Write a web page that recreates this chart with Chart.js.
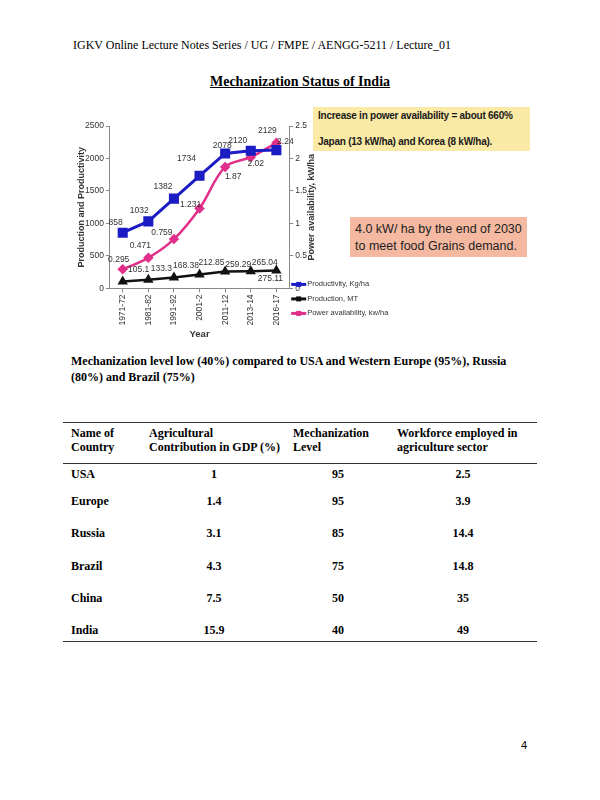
<!DOCTYPE html>
<html lang="en">
<head>
<meta charset="UTF-8">
<title>Mechanization Status of India</title>
<script src="https://cdn.jsdelivr.net/npm/chart.js@4.4.0/dist/chart.umd.min.js"></script>
<style>
    body {
        margin: 0;
        width: 600px;
        height: 800px;
        background: #ffffff;
        font-family: 'Liberation Serif', 'Times New Roman', serif;
        color: #000;
        position: relative;
        overflow: hidden;
    }
    .abs { position: absolute; white-space: nowrap; }
    .header { left: 73px; top: 38px; font-size: 12px; }
    .title { left: 0; width: 600px; text-align: center; top: 74px; font-size: 14px; font-weight: bold; text-decoration: underline; }
    .chart-wrap { position: absolute; left: 70px; top: 118px; width: 332px; height: 222px; }
    .note-yellow {
        left: 313px; top: 107px; width: 217px; height: 44px;
        background: #fbe9a6;
        font-family: 'Liberation Sans', Arial, sans-serif;
        font-weight: bold; font-size: 10px; letter-spacing: -0.25px; color: #1a1a1a;
        box-sizing: border-box; padding: 0 0 0 5px; line-height: 26px;
    }
    .note-yellow div { margin-top: -4px; }
    .note-pink {
        left: 350px; top: 217px; width: 177px; height: 40px;
        background: #f5b9a1;
        font-family: 'Liberation Sans', Arial, sans-serif;
        font-size: 12.5px; color: #222;
        box-sizing: border-box; padding: 4px 0 0 5px; line-height: 17px;
    }
    .para { left: 71px; top: 353px; font-size: 12px; font-weight: bold; line-height: 16px; }
    .rule { position: absolute; left: 63px; width: 474px; height: 0; border-top: 1px solid #333; }
    .cell { position: absolute; font-size: 12px; font-weight: bold; line-height: 14px; white-space: nowrap; }
    .num { text-align: center; width: 80px; }
    .page { left: 521px; top: 739px; font-family: 'Liberation Sans', Arial, sans-serif; font-size: 11px; }
</style>
</head>
<body>
<div class="abs header">IGKV Online Lecture Notes Series / UG / FMPE / AENGG-5211 / Lecture_01</div>
<div class="abs title">Mechanization Status of India</div>

<div class="chart-wrap"><canvas id="mechChart"></canvas></div>

<div class="abs note-yellow"><div>Increase in power availability = about 660%<br>Japan (13 kW/ha) and Korea (8 kW/ha).</div></div>
<div class="abs note-pink">4.0 kW/ ha by the end of 2030<br>to meet food Grains demand.</div>

<div class="abs para">Mechanization level low (40%) compared to USA and Western Europe (95%), Russia<br>(80%) and Brazil (75%)</div>

<div id="table"></div>

<div class="abs page">4</div>

<script>
    // chart data
    const years = ['1971-72', '1981-82', '1991-92', '2001-2', '2011-12', '2013-14', '2016-17'];
    const productivity = [858, 1032, 1382, 1734, 2078, 2120, 2129];
    const production = [105.1, 133.3, 168.38, 212.85, 259.29, 265.04, 275.11];
    const powerAvail = [0.295, 0.471, 0.759, 1.231, 1.87, 2.02, 2.24];
    const leftTicks = [0, 500, 1000, 1500, 2000, 2500];
    const rightTicks = [0, 0.5, 1, 1.5, 2, 2.5];

    // table data
    const countries = ['USA', 'Europe', 'Russia', 'Brazil', 'China', 'India'];
    const gdpShare = ['1', '1.4', '3.1', '4.3', '7.5', '15.9'];
    const mechLevel = ['95', '95', '85', '75', '50', '40'];
    const workforce = ['2.5', '3.9', '14.4', '14.8', '35', '49'];

    // label offsets (dx, dy) relative to each point
    const labelOffsets = [
        [[-7, -10], [-9, -11], [-11, -12], [-13, -17], [-3, -8], [-13, -10], [-9, -19]],
        [[16, -12], [13, -11], [12, -12], [12, -12], [13, -7], [14, -9], [-6, 8]],
        [[-4, -10], [-8, -12], [-12, -6], [-9, -4], [8, 10], [5, 6], [9, -1]]
    ];

    const ctx = document.getElementById('mechChart').getContext('2d');
    const sans = '"Liberation Sans", Arial, sans-serif';

    const dataLabels = {
        id: 'dataLabels',
        afterDatasetsDraw(chart) {
            const c = chart.ctx;
            c.save();
            c.font = '8.5px ' + sans;
            c.fillStyle = '#333';
            c.textAlign = 'center';
            c.textBaseline = 'middle';
            chart.data.datasets.forEach((ds, i) => {
                const meta = chart.getDatasetMeta(i);
                meta.data.forEach((pt, j) => {
                    const off = labelOffsets[i][j];
                    c.fillText(String(ds.data[j]), pt.x + off[0], pt.y + off[1]);
                });
            });
            c.restore();
        }
    };

    // axis titles (both read bottom to top) and the legend beside the plot
    const sideLegend = {
        id: 'sideLegend',
        afterDraw(chart) {
            const c = chart.ctx;
            const area = chart.chartArea;
            const midY = (area.top + area.bottom) / 2;
            c.save();
            c.font = 'bold 9px ' + sans;
            c.fillStyle = '#333';
            c.textAlign = 'center';
            c.textBaseline = 'middle';
            c.translate(area.left - 28, midY);
            c.rotate(-Math.PI / 2);
            c.fillText('Production and Productivity', 0, 0);
            c.restore();

            c.save();
            c.font = 'bold 9px ' + sans;
            c.fillStyle = '#333';
            c.textAlign = 'center';
            c.textBaseline = 'middle';
            c.translate(area.right + 22, midY);
            c.rotate(-Math.PI / 2);
            c.fillText('Power availability, kW/ha', 0, 0);
            c.restore();

            c.save();
            c.font = '7.5px ' + sans;
            c.textBaseline = 'middle';
            chart.data.datasets.forEach((ds, i) => {
                const x = area.right + 2;
                const y = area.bottom - 4 + i * 14.5;
                c.strokeStyle = ds.borderColor;
                c.lineWidth = 3;
                c.beginPath();
                c.moveTo(x, y);
                c.lineTo(x + 15, y);
                c.stroke();
                c.fillStyle = ds.borderColor;
                c.fillRect(x + 5, y - 2.5, 5, 5);
                c.fillStyle = '#333';
                c.fillText(ds.label, x + 16, y);
            });
            c.restore();
        }
    };

    new Chart(ctx, {
        type: 'line',
        data: {
            labels: years,
            datasets: [
                {
                    label: 'Productivity, Kg/ha',
                    data: productivity,
                    borderColor: '#1c1cc4',
                    backgroundColor: '#1c1cc4',
                    borderWidth: 3,
                    pointStyle: 'rect',
                    pointRadius: 5,
                    yAxisID: 'y'
                },
                {
                    label: 'Production, MT',
                    data: production,
                    borderColor: '#111111',
                    backgroundColor: '#111111',
                    borderWidth: 2.5,
                    pointStyle: 'triangle',
                    pointRadius: 3.5,
                    yAxisID: 'y'
                },
                {
                    label: 'Power availability, kw/ha',
                    data: powerAvail,
                    borderColor: '#e0308a',
                    backgroundColor: '#e0308a',
                    borderWidth: 2.5,
                    pointStyle: 'rectRot',
                    pointRadius: 3.5,
                    tension: 0.35,
                    yAxisID: 'y1'
                }
            ]
        },
        options: {
            responsive: true,
            maintainAspectRatio: false,
            animation: false,
            layout: { padding: { top: 5, right: 93, left: 13, bottom: 0 } },
            plugins: {
                legend: { display: false },
                tooltip: { enabled: false }
            },
            scales: {
                x: {
                    offset: true,
                    grid: { display: true, drawOnChartArea: false, tickLength: 4, color: '#888', offset: false },
                    border: { color: '#888' },
                    ticks: {
                        minRotation: 90, maxRotation: 90, padding: 2,
                        color: '#333',
                        font: { size: 8.5, family: sans }
                    },
                    title: {
                        display: true, text: 'Year', color: '#333', padding: { top: 1, bottom: 0 },
                        font: { size: 9.5, weight: 'bold', family: sans }
                    }
                },
                y: {
                    position: 'left',
                    min: 0, max: 2500,
                    afterBuildTicks(axis) { axis.ticks = leftTicks.map(v => ({ value: v })); },
                    grid: { display: true, drawOnChartArea: false, tickLength: 4, color: '#888' },
                    border: { color: '#888' },
                    ticks: {
                        padding: 2, color: '#333',
                        font: { size: 8.5, family: sans },
                        callback: v => String(v)
                    }
                },
                y1: {
                    position: 'right',
                    min: 0, max: 2.5,
                    afterBuildTicks(axis) { axis.ticks = rightTicks.map(v => ({ value: v })); },
                    grid: { display: true, drawOnChartArea: false, tickLength: 4, color: '#888' },
                    border: { color: '#888' },
                    ticks: {
                        padding: 2, color: '#333',
                        font: { size: 8.5, family: sans },
                        callback: v => String(v)
                    }
                }
            }
        },
        plugins: [dataLabels, sideLegend]
    });

    // table
    const table = document.getElementById('table');
    function addCell(text, left, top, cls) {
        const d = document.createElement('div');
        d.className = 'cell' + (cls ? ' ' + cls : '');
        d.style.left = left + 'px';
        d.style.top = top + 'px';
        d.innerHTML = text;
        table.appendChild(d);
    }
    function addRule(top) {
        const r = document.createElement('div');
        r.className = 'rule';
        r.style.top = top + 'px';
        table.appendChild(r);
    }
    addRule(422);
    addCell('Name of<br>Country', 71, 426);
    addCell('Agricultural<br>Contribution in GDP (%)', 149, 426);
    addCell('Mechanization<br>Level', 293, 426);
    addCell('Workforce employed in<br>agriculture sector', 397, 426);
    addRule(463);
    const rowTops = [467, 494, 526, 559, 591, 623];
    countries.forEach((name, i) => {
        addCell(name, 71, rowTops[i]);
        addCell(gdpShare[i], 174, rowTops[i], 'num');
        addCell(mechLevel[i], 298, rowTops[i], 'num');
        addCell(workforce[i], 423, rowTops[i], 'num');
    });
    addRule(641);
</script>
</body>
</html>
